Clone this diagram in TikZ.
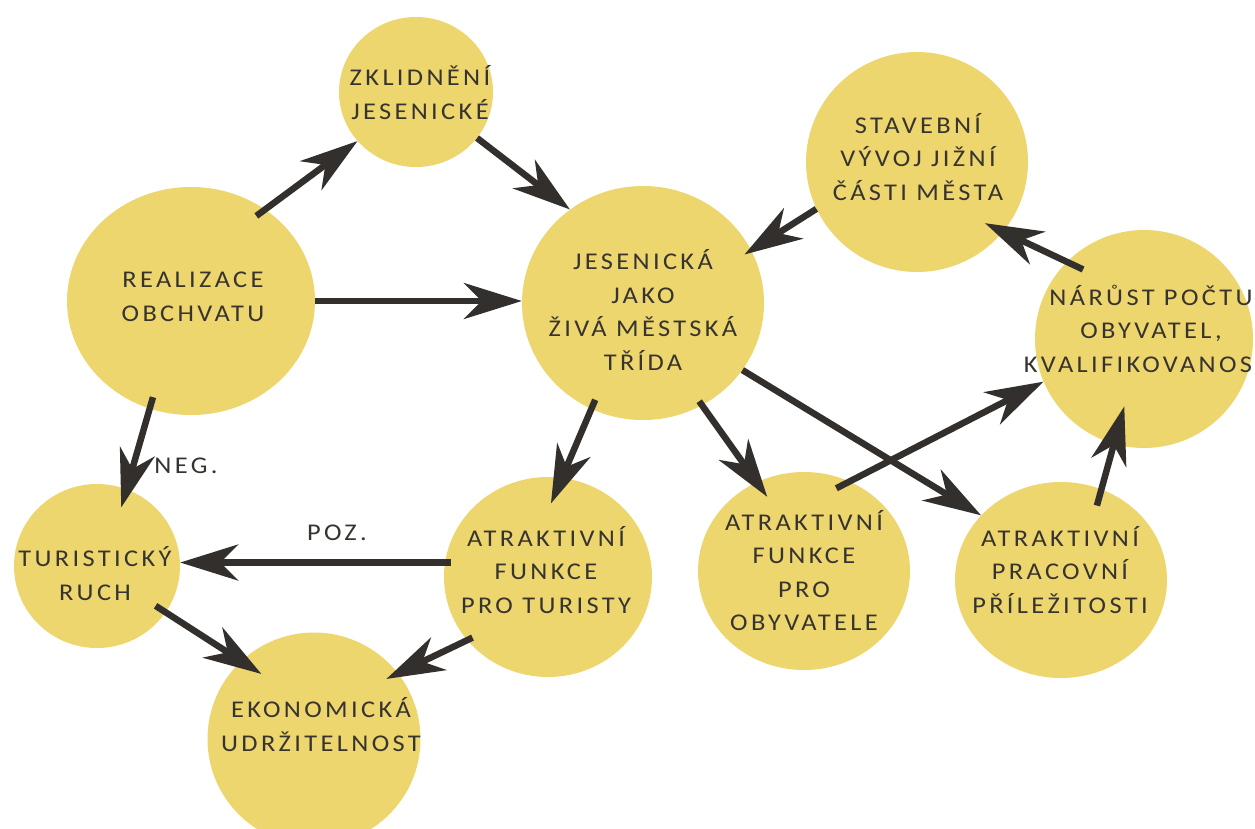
\documentclass[tikz,border=0pt]{standalone}
\usepackage{fontspec}
\setmainfont{Carlito}[LetterSpace=14,FakeStretch=1.1]
\usetikzlibrary{arrows.meta,shapes.geometric}
\definecolor{bubfill}{RGB}{237,214,110}
\definecolor{txtcol}{RGB}{55,52,48}
\definecolor{arrcol}{RGB}{50,47,45}
\tikzset{
  bub/.style={ellipse, fill=bubfill, draw=none, inner sep=0pt},
  lbl/.style={align=center, text=txtcol, font=\fontsize{24}{33.5}\selectfont, inner sep=0pt},
  conn/.style={draw=arrcol, line width=6.5pt, -{Stealth[length=58pt,width=36pt,inset=18pt]}},
}
\begin{document}
\begin{tikzpicture}[x=1pt,y=-1pt]
\useasboundingbox (0,0) rectangle (1255,828);
\fill[white] (0,0) rectangle (1255,828);
\clip (0,0) rectangle (1255,828);
% bubbles
\node[bub, minimum width=154pt, minimum height=150pt] (zkl) at (416,92) {};
\node[bub, minimum width=248pt, minimum height=228pt] (rea) at (191,301) {};
\node[bub, minimum width=242pt, minimum height=234pt] (jes) at (643,303) {};
\node[bub, minimum width=222pt, minimum height=220pt] (sta) at (917,162) {};
\node[bub, minimum width=218pt, minimum height=218pt] (nar) at (1144,339) {};
\node[bub, minimum width=166pt, minimum height=164pt] (tur) at (97,566) {};
\node[bub, minimum width=208pt, minimum height=200pt] (ftu) at (548,577) {};
\node[bub, minimum width=212pt, minimum height=198pt] (fob) at (804,571) {};
\node[bub, minimum width=212pt, minimum height=196pt] (pra) at (1061,580) {};
\node[bub, minimum width=213pt, minimum height=213pt] (eko) at (314,739) {};
% texts
\node[lbl] (zkl-t) at (420,96) {\strut ZKLIDNĚNÍ\\JESENICKÉ\strut};
\node[lbl] (rea-t) at (193,298) {\strut REALIZACE\\OBCHVATU\strut};
\node[lbl] (jes-t) at (643,313.5) {\strut JESENICKÁ\\JAKO\\ŽIVÁ MĚSTSKÁ\\TŘÍDA\strut};
\node[lbl] (sta-t) at (918,160) {\strut STAVEBNÍ\\VÝVOJ JIŽNÍ\\ČÁSTI MĚSTA\strut};
\node[lbl] (nar-t) at (1151,332) {\strut NÁRŮST POČTU\\OBYVATEL,\\KVALIFIKOVANOSTI\strut};
\node[lbl] (tur-t) at (95,577) {\strut TURISTICKÝ\\RUCH\strut};
\node[lbl] (ftu-t) at (546,573) {\strut ATRAKTIVNÍ\\FUNKCE\\PRO TURISTY\strut};
\node[lbl] (fob-t) at (804,574) {\strut ATRAKTIVNÍ\\FUNKCE\\PRO\\OBYVATELE\strut};
\node[lbl] (pra-t) at (1060,573) {\strut ATRAKTIVNÍ\\PRACOVNÍ\\PŘÍLEŽITOSTI\strut};
\node[lbl] (eko-t) at (321,728) {\strut EKONOMICKÁ\\UDRŽITELNOST\strut};
\node[lbl] (neg) at (186,466) {NEG.};
\node[lbl] (poz) at (337,533) {POZ.};
% connectors
\draw[conn, shorten <=-11pt] (rea.51.7) -- (zkl.220.4);
\draw[conn] (zkl.-37) -- (jes.128);
\draw[conn] (rea.east) -- (rea.east -| jes.west);
\draw[conn, shorten >=-8pt] (sta.205.4) -- (jes.26);
\draw[conn, shorten <=-18pt, shorten >=-20pt] (nar.135.2) -- (sta.-39);
\draw[conn, shorten <=-12pt, shorten >=-19pt] (rea.249.9) -- (tur.69.5);
\draw[conn, shorten <=-10pt, shorten >=-28pt] (jes.244.7) -- (ftu.82.6);
\draw[conn, shorten <=-5pt, shorten >=-18pt] (jes.-60.7) -- (fob.118.3);
\draw[conn] (jes.-34.1) -- (pra.141.7);
\draw[conn, shorten <=-15pt] (fob.63.3) -- (nar.203.3);
\draw[conn, shorten <=-17pt, shorten >=-39pt] (pra.66.7) -- (nar.254.5);
\draw[conn, shorten <=-6pt] (ftu.172.3) -- (ftu.172.3 -| tur.east);
\draw[conn, shorten <=-12pt, shorten >=-24pt] (tur.-34.9) -- (eko.133.7);
\draw[conn, shorten <=-6pt, shorten >=-13pt] (ftu.218.3) -- (eko.38.5);
\end{tikzpicture}
\end{document}
